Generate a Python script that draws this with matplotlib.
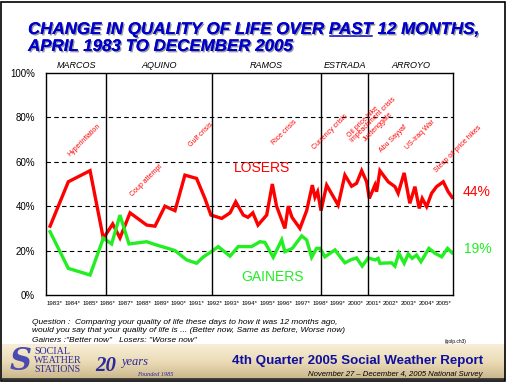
import matplotlib
matplotlib.use('Agg')
import matplotlib.pyplot as plt
import matplotlib.patheffects as pe
from matplotlib.patches import Rectangle
import numpy as np

# survey dates (decimal years) and % of respondents
loser_dates = [1983.23, 1984.26, 1985.49, 1986.24, 1986.77, 1987.18, 1987.75, 1988.69,
               1989.16, 1989.72, 1990.29, 1990.85, 1991.51, 1991.98, 1992.32, 1992.93,
               1993.40, 1993.72, 1994.15, 1994.41, 1994.69, 1994.98, 1995.47, 1995.79,
               1996.03, 1996.50, 1996.69, 1996.90, 1997.35, 1997.73, 1998.05, 1998.20,
               1998.35, 1998.54, 1998.86, 1999.51, 1999.89, 2000.27, 2000.55, 2000.84,
               2001.12, 2001.27, 2001.59, 2001.68, 2001.87, 2002.34, 2002.72, 2002.90,
               2003.24, 2003.56, 2003.85, 2004.09, 2004.26, 2004.51, 2004.79, 2005.07,
               2005.45, 2005.73, 2005.95]
losers = [31, 51, 56, 25.5, 32, 25.7, 37, 31.5,
          31, 40, 38, 54, 52.5, 43.5, 36, 34.5,
          37, 42, 36, 35, 37, 31.5, 36, 50,
          40, 30, 40, 35, 30, 38, 49.5, 44,
          46.5, 38, 49.5, 40.5, 54, 49, 50.3, 56,
          51, 43.5, 49.5, 46.5, 56, 51, 48.8, 45.8,
          55, 41.3, 48.8, 39, 43.5, 39.8, 45.8, 48.8,
          51, 46.5, 44]

gainer_dates = [1983.23, 1984.26, 1985.49, 1986.24, 1986.71, 1987.18, 1987.69, 1988.69,
                1989.25, 1989.89, 1990.29, 1990.95, 1991.51, 1991.87, 1992.43, 1992.73,
                1993.40, 1993.86, 1994.62, 1995.09, 1995.37, 1995.84, 1996.32, 1996.50,
                1996.92, 1997.45, 1997.73, 1998.01, 1998.29, 1998.48, 1998.76, 1999.33,
                1999.89, 2000.27, 2000.55, 2000.87, 2001.21, 2001.59, 2001.77, 2001.87,
                2002.53, 2002.72, 2002.94, 2003.24, 2003.47, 2003.69, 2003.94, 2004.19,
                2004.64, 2004.98, 2005.36, 2005.69, 2005.95]
gainers = [28.5, 12, 9, 25.6, 23, 36, 23, 24,
           22.5, 21, 20, 15.8, 14.3, 17, 20, 21.8,
           17.5, 21.8, 21.8, 24, 23.7, 17, 24.8, 19.5,
           21, 26.6, 24.8, 17, 21, 21, 17.2, 20.3,
           14.5, 16, 16.7, 13, 16.7, 15.8, 16.5, 14.3,
           14.5, 13, 18.8, 14.3, 18.5, 16.5, 18, 15,
           21, 18.8, 17.2, 21, 19]

presidents = ['MARCOS', 'AQUINO', 'RAMOS', 'ESTRADA', 'ARROYO']
term_ends = [1986.4, 1992.38, 1998.55, 2001.2]
year_labels = [str(y) + '*' for y in range(1983, 2006)]

events = ['Hyperinflation', 'Coup attempt', 'Gulf crisis', 'Rice crisis', 'Currency crisis',
          'Oil price hike', 'Impeachment crisis', 'Juetenggate', 'Abu Sayyaf',
          'US-Iraq War', 'Steep oil price hikes']
event_x = [1985.15, 1988.65, 1991.76, 1996.5, 1999.05, 2000.9, 2001.5, 2001.75,
           2002.6, 2004.13, 2006.28]
event_y = [69.8, 51.4, 72, 73.4, 73.4, 78, 78.8, 75.7, 70.3, 72, 65.8]

RED = '#FF0000'
GREEN = '#22EE22'
BLUE = '#0000CC'

plt.rcParams['font.family'] = ['Liberation Sans', 'DejaVu Sans']

W, H = 508, 383
fig = plt.figure(figsize=(W / 100, H / 100), dpi=100)


def P(x, y):
    return x / W, 1 - y / H


# outer frame
fig.patches.append(Rectangle((1 / W, 2 / H), (W - 4) / W, (H - 4) / H, transform=fig.transFigure,
                             fill=False, lw=1.2, ec='black'))

# footer band
band = np.linspace(0, 1, 40).reshape(-1, 1)
fax = fig.add_axes([2 / W, 3 / H, (W - 5) / W, 36 / H])
fax.imshow(band, aspect='auto', cmap=matplotlib.colors.LinearSegmentedColormap.from_list(
    'b', ['#F8EED8', '#EADBB5', '#C8B48A']), extent=[0, 1, 0, 1])
fax.axhline(0.02, color='#333333', lw=2)
fax.axis('off')

ax = fig.add_axes([46 / W, 1 - 295 / H, 407 / W, 222 / H])
ax.plot(loser_dates, losers, color=RED, lw=2.4, solid_joinstyle='miter')
ax.plot(gainer_dates, gainers, color=GREEN, lw=2.4, solid_joinstyle='miter')
ax.set_xlim(1983, 2006)
ax.set_ylim(0, 100)
for g in [20, 40, 60, 80]:
    ax.axhline(g, color='black', lw=0.8, ls=(0, (4, 3)), zorder=0)
for t in term_ends:
    ax.axvline(t, color='black', lw=1.0)
ax.set_yticks([0, 20, 40, 60, 80, 100])
ax.set_yticklabels(['0%', '20%', '40%', '60%', '80%', '100%'], fontsize=7)
ax.set_xticks([y + 0.5 for y in range(1983, 2006)])
ax.set_xticklabels(year_labels, fontsize=4.4)
ax.tick_params(length=0, pad=4)
ax.tick_params(axis='y', pad=8)
for s in ax.spines.values():
    s.set_linewidth(1.0)

bounds = [1983] + term_ends + [2006]
for name, a, b in zip(presidents, bounds[:-1], bounds[1:]):
    ax.text((a + b) / 2, 101.5, name, ha='center', va='bottom', fontsize=6.5, style='italic')

for lab, x, y in zip(events, event_x, event_y):
    ax.text(x, y, lab, rotation=45, ha='center', va='center', fontsize=5, color=RED,
            clip_on=False)

ax.text(1995.2, 57, 'LOSERS', color=RED, fontsize=10, ha='center', va='center')
ax.text(1995.8, 8, 'GAINERS', color=GREEN, fontsize=10, ha='center', va='center')
fig.text(*P(477, 192), '44%', color=RED, fontsize=10, ha='center', va='center')
fig.text(*P(478, 249), '19%', color=GREEN, fontsize=10, ha='center', va='center')

# title
shadow = [pe.withSimplePatchShadow(offset=(1, -1), shadow_rgbFace='#999999', alpha=1), pe.Normal()]
tkw = dict(fontsize=12.2, color=BLUE, weight='bold', style='italic', ha='left', va='baseline',
           path_effects=shadow)
line1 = 'CHANGE IN QUALITY OF LIFE OVER PAST 12 MONTHS,'
t1 = fig.text(*P(28, 34), line1, **tkw)
fig.text(*P(28, 51), 'APRIL 1983 TO DECEMBER 2005', **tkw)
fig.canvas.draw()
r = fig.canvas.get_renderer()
probe = fig.text(*P(28, 34), 'CHANGE IN QUALITY OF LIFE OVER ', fontsize=12.2, weight='bold',
                 style='italic', ha='left', va='baseline', alpha=0)
x0 = probe.get_window_extent(r).x1
probe.set_text('CHANGE IN QUALITY OF LIFE OVER PAST')
x1 = probe.get_window_extent(r).x1
probe.remove()
yy = 1 - 35.5 / H
fig.add_artist(plt.Line2D([x0 / W + 0.002, x1 / W], [yy, yy], color=BLUE, lw=1.1,
                          transform=fig.transFigure))

# question text
qkw = dict(fontsize=6.0, style='italic', ha='left', va='center')
fig.text(*P(32, 322), 'Question :  Comparing your quality of life these days to how it was 12 months ago,', **qkw)
fig.text(*P(32, 331), 'would you say that your quality of life is ... (Better now, Same as before, Worse now)', **qkw)
fig.text(*P(32, 341), 'Gainers :"Better now"   Losers: "Worse now"', **qkw)
fig.text(*P(445, 341), '(qolp.ch3)', fontsize=3.5, ha='left', va='center')

# footer
NAVY = '#2A2A9A'
fig.text(*P(10, 362), 'S', fontsize=22, color='#4A4AB0', weight='bold', style='italic',
         ha='left', va='center', family='DejaVu Serif')
for i, w in enumerate(['SOCIAL', 'WEATHER', 'STATIONS']):
    fig.text(*P(34, 351 + i * 9.5), w, fontsize=7.2, color=NAVY, family='Liberation Serif',
             ha='left', va='center')
fig.text(*P(95, 366), '20', fontsize=15, color=NAVY, weight='bold', style='italic',
         family='Liberation Serif', ha='left', va='center')
fig.text(*P(121, 362), 'years', fontsize=9, color=NAVY, style='italic',
         family='Liberation Serif', ha='left', va='center')
fig.text(*P(137, 374), 'Founded 1985', fontsize=4.5, color=NAVY, style='italic',
         family='Liberation Serif', ha='left', va='center')
fig.text(*P(483, 361), '4th Quarter 2005 Social Weather Report', fontsize=9.6, color='#1010A0',
         weight='bold', ha='right', va='center')
fig.text(*P(483, 374), 'November 27 \u2013 December 4, 2005 National Survey', fontsize=5.6,
         style='italic', ha='right', va='center')

fig.savefig('out.png', dpi=100)
